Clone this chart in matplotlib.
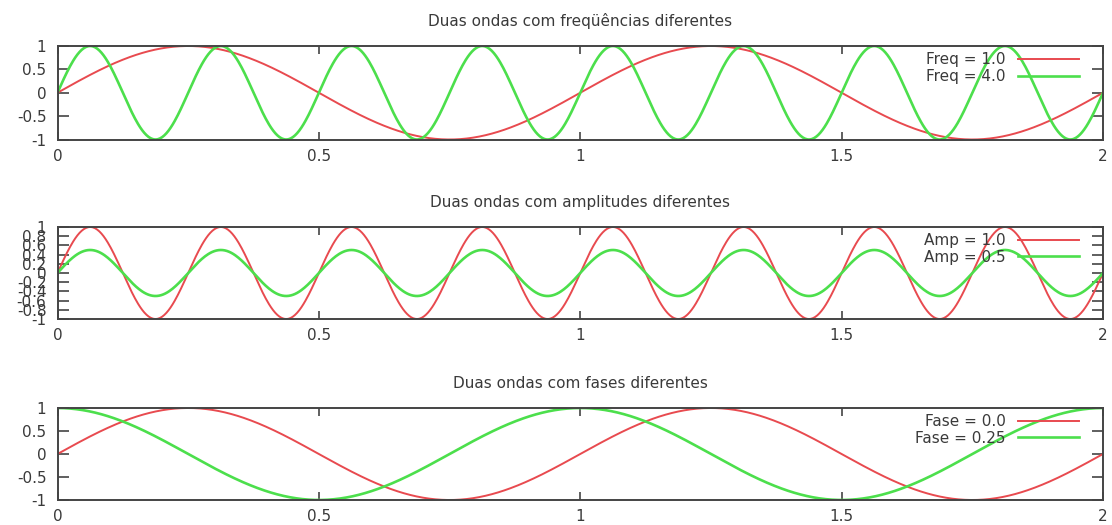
import numpy as np
import matplotlib
matplotlib.use("Agg")
import matplotlib.pyplot as plt
from matplotlib.ticker import FuncFormatter

# ---- data ----
x_min, x_max = 0.0, 2.0
n_points = 1000

titles = [
    "Duas ondas com freqüências diferentes",
    "Duas ondas com amplitudes diferentes",
    "Duas ondas com fases diferentes",
]

# panel 1: two frequencies (amplitude 1, phase 0)
freqs = [1.0, 4.0]
freq_labels = ["Freq = 1.0", "Freq = 4.0"]

# panel 2: two amplitudes (frequency 4, phase 0)
amps = [1.0, 0.5]
amp_freq = 4.0
amp_labels = ["Amp = 1.0", "Amp = 0.5"]

# panel 3: two phases (frequency 1, amplitude 1)
phases = [0.0, 0.25]
phase_freq = 1.0
phase_labels = ["Fase = 0.0", "Fase = 0.25"]

x_ticks = [0, 0.5, 1, 1.5, 2]
y_ticks_main = [-1, -0.5, 0, 0.5, 1]
y_ticks_amp = [-1, -0.8, -0.6, -0.4, -0.2, 0, 0.2, 0.4, 0.6, 0.8, 1]

# ---- style ----
RED = "#e84a4f"
GREEN = "#4cdf4c"
TXT = "#3a3a3a"
FS = 11

plt.rcParams["font.family"] = ["DejaVu Sans"]

fig = plt.figure(figsize=(11.12, 5.25), dpi=100)

left = 57.5 / 1112
width = (1103 - 57.5) / 1112
boxes = [
    (46, 139.5),
    (227, 319),
    (408, 500),
]

x = np.linspace(x_min, x_max, n_points)

def gfmt(v, pos):
    s = "%g" % round(v, 6)
    if s == "-0":
        s = "0"
    return s

axes = []
for (top, bot) in boxes:
    ax = fig.add_axes([left, 1 - bot / 525, width, (bot - top) / 525])
    axes.append(ax)

series = [
    [(np.sin(2 * np.pi * f * x), lab) for f, lab in zip(freqs, freq_labels)],
    [(a * np.sin(2 * np.pi * amp_freq * x), lab) for a, lab in zip(amps, amp_labels)],
    [(np.sin(2 * np.pi * phase_freq * (x + p)), lab) for p, lab in zip(phases, phase_labels)],
]
yticks_list = [y_ticks_main, y_ticks_amp, y_ticks_main]

for ax, ser, title, yt in zip(axes, series, titles, yticks_list):
    for (y, lab), col, lw in zip(ser, [RED, GREEN], [1.4, 1.9]):
        ax.plot(x, y, color=col, lw=lw, label=lab)
    ax.set_xlim(x_min, x_max)
    ax.set_ylim(-1, 1)
    ax.set_xticks(x_ticks)
    ax.set_yticks(yt)
    ax.xaxis.set_major_formatter(FuncFormatter(gfmt))
    ax.yaxis.set_major_formatter(FuncFormatter(gfmt))
    ax.tick_params(axis="x", direction="in", length=6, width=1.2, top=True,
                   bottom=True, pad=6.5, labelsize=FS, labelcolor=TXT, color="#444444")
    ax.tick_params(axis="y", direction="in", length=8, width=1.2, left=True,
                   right=True, pad=8, labelsize=FS, labelcolor=TXT, color="#444444")
    for sp in ax.spines.values():
        sp.set_color("#444444")
        sp.set_linewidth(1.4)
    ax.set_title(title, fontsize=FS, color=TXT, pad=14.5)
    ax.legend(loc="upper right", bbox_to_anchor=(1 - 24 / 1045.5, 1 - 6 / 93),
              frameon=False, markerfirst=False, fontsize=FS, handlelength=4.0,
              handletextpad=0.8, labelspacing=0.12, borderpad=0, borderaxespad=0,
              labelcolor=TXT)

fig.savefig("out.png", dpi=100)
